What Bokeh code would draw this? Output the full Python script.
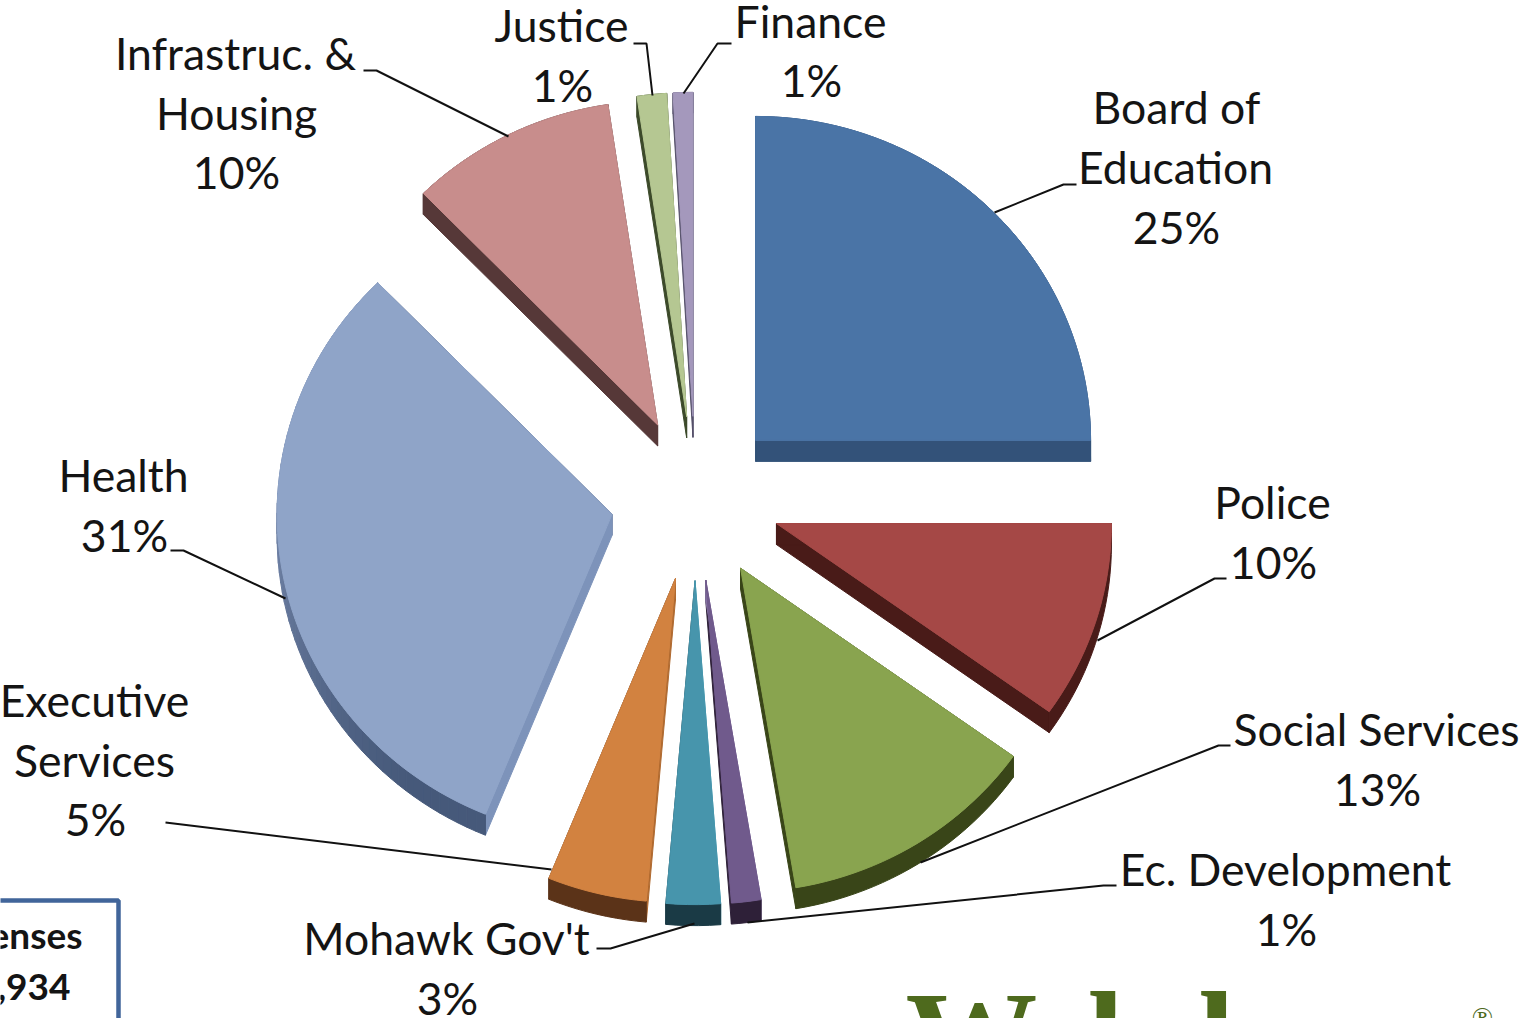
import math
from bokeh.plotting import figure
from bokeh.core.properties import value
from bokeh.embed import file_html
from bokeh.resources import INLINE

# ---- data: clockwise from 12 o'clock ----
categories = ["Board of Education", "Police", "Social Services", "Ec. Development", "Mohawk Gov't",
              "Executive Services", "Health", "Infrastruc. & Housing", "Justice", "Finance"]
shares = [25.0, 9.86, 12.5, 1.42, 2.61, 4.78, 31.5, 9.96, 1.42, 0.95]
tops = ["#4A74A6", "#A54846", "#89A44F", "#705A8C", "#4795AC", "#D28240", "#8FA4C8", "#C88D8C", "#B5C792", "#A498BC"]
arc_dark = ["#335279", "#491B18", "#394518", "#2E2038", "#1A3A45", "#5B3318", "#46597A", "#563838", "#3C4A2A", "#55506A"]
arc_light = ["#335279", "#491B18", "#394518", "#2E2038", "#1A3A45", "#5B3318", "#7688AC", "#563838", "#3C4A2A", "#55506A"]
start_edge = ["#335279", "#491B18", "#394518", "#8573A3", "#5FB0C4", "#B06A30", "#7D93BA", "#563838", "#3C4A2A", "#55506A"]
end_edge = ["#335279", "#491B18", "#394518", "#2E2038", "#1A3A45", "#5B3318", "#46597A", "#563838", "#3C4A2A", "#55506A"]

labels = [
    ("Board of", 1176, 106), ("Education", 1175, 166), ("25%", 1176, 226),
    ("Police", 1272, 501), ("10%", 1273, 561),
    ("Social Services", 1376, 728), ("13%", 1377, 788),
    ("Ec. Development", 1285, 868), ("1%", 1286, 928),
    ("Mohawk Gov't", 446, 937), ("3%", 447, 997),
    ("Executive", 94, 699), ("Services", 94, 759), ("5%", 95, 818),
    ("Health", 123, 474), ("31%", 124, 534),
    ("Infrastruc. &", 235, 52), ("Housing", 236, 112), ("10%", 236, 171),
    ("Justice", 561, 24), ("1%", 562, 84),
    ("Finance", 810, 20), ("1%", 811, 79),
]
leaders = [
    [(994, 212), (1063, 184), (1076, 184)],
    [(1097, 640), (1214, 578), (1226, 578)],
    [(920, 862), (1218, 745), (1230, 745)],
    [(747, 922), (1103, 885), (1116, 885)],
    [(694, 923), (610, 948), (596, 948)],
    [(551, 869), (165, 822)],
    [(285, 598), (183, 550), (170, 550)],
    [(508, 136), (376, 70), (363, 70)],
    [(652, 95), (646, 43), (633, 43)],
    [(683, 93), (717, 43), (731, 43)],
]

# ---- geometry ----
W, H = 1521, 1018
CX, CY, R, YS, EXPLODE, DEPTH = 695.0, 498.0, 335.0, 0.967, 85.0, 21.0

p = figure(width=W, height=H, x_range=(0, W), y_range=(H, 0), toolbar_location=None,
           output_backend="svg", min_border=0, outline_line_color=None, background_fill_color="white")
p.xaxis.visible = False
p.yaxis.visible = False
p.grid.visible = False


def pt(a, ox, oy, r=R):
    return ox + r * math.sin(a), oy - r * YS * math.cos(a)


def mix(c1, c2, t):
    a = [int(c1[i:i + 2], 16) for i in (1, 3, 5)]
    b = [int(c2[i:i + 2], 16) for i in (1, 3, 5)]
    return "#%02x%02x%02x" % tuple(round(u + (v - u) * t) for u, v in zip(a, b))


total = sum(shares)
cum = 0.0
fx, fy, fc = [], [], []
for i, s in enumerate(shares):
    a0 = cum / total * 2 * math.pi
    cum += s
    a1 = cum / total * 2 * math.pi
    mid = (a0 + a1) / 2
    ox = CX + EXPLODE * math.sin(mid)
    oy = CY - EXPLODE * YS * math.cos(mid)
    n = max(4, int((a1 - a0) / 0.03))
    angs = [a0 + (a1 - a0) * k / n for k in range(n + 1)]
    arc = [pt(a, ox, oy) for a in angs]
    # radial faces: the closing edge first, so the opening edge lies over it at the apex
    for (ang, col) in ((a1, end_edge[i]), (a0, start_edge[i])):
        ex, ey = pt(ang, ox, oy)
        fx.append([ox, ex, ex, ox])
        fy.append([oy, ey, ey + DEPTH, oy + DEPTH])
        fc.append(col)
    # outer rim
    if arc_light[i] == arc_dark[i]:
        fx.append([q[0] for q in arc] + [q[0] for q in reversed(arc)])
        fy.append([q[1] for q in arc] + [q[1] + DEPTH for q in reversed(arc)])
        fc.append(arc_dark[i])
    else:
        for k in range(n):
            (x0, y0), (x1, y1) = arc[k], arc[k + 1]
            t = max(0.0, min(1.0, (-math.cos(angs[k]) + 0.1) / 0.9))
            fx.append([x0, x1, x1, x0])
            fy.append([y0, y1, y1 + DEPTH, y0 + DEPTH])
            fc.append(mix(arc_light[i], arc_dark[i], t))
    # top face
    fx.append([ox] + [q[0] for q in arc])
    fy.append([oy] + [q[1] for q in arc])
    fc.append(tops[i])

p.patches(fx, fy, fill_color=fc, line_color=fc, line_width=1)

for path in leaders:
    p.line([q[0] for q in path], [q[1] for q in path], line_color="#111111", line_width=2)

p.text([q[1] for q in labels], [q[2] for q in labels], text=[q[0] for q in labels],
       text_font=value("Lato"), text_font_size="44.5px", text_align="center",
       text_baseline="middle", text_color="#141414")

# summary box fragment, cut by the page edge
p.line([-10, 118, 118], [900, 900, 1030], line_color="#41659A", line_width=4.5)
p.text([82, 70], [934, 986], text=["enses", ",934"], text_font=value("Lato"), text_font_size="37px",
       text_font_style="bold", text_align="right", text_baseline="middle", text_color="#141414")

# logo fragment, cut by the page edge
p.text([905], [963], text=["Web"], text_font=value("Liberation Serif"), text_font_size="132px",
       text_font_style="bold", text_align="left", text_baseline="top", text_color="#4E6A1D")
p.text([1216], [963], text=["l"], text_font=value("Liberation Serif"), text_font_size="132px",
       text_font_style="bold", text_align="center", text_baseline="top", text_color="#4E6A1D")
p.text([1482], [1017], text=["®"], text_font=value("Liberation Serif"), text_font_size="28px",
       text_align="center", text_baseline="middle", text_color="#4E6A1D")

open("out.html", "w").write(file_html(p, INLINE))
